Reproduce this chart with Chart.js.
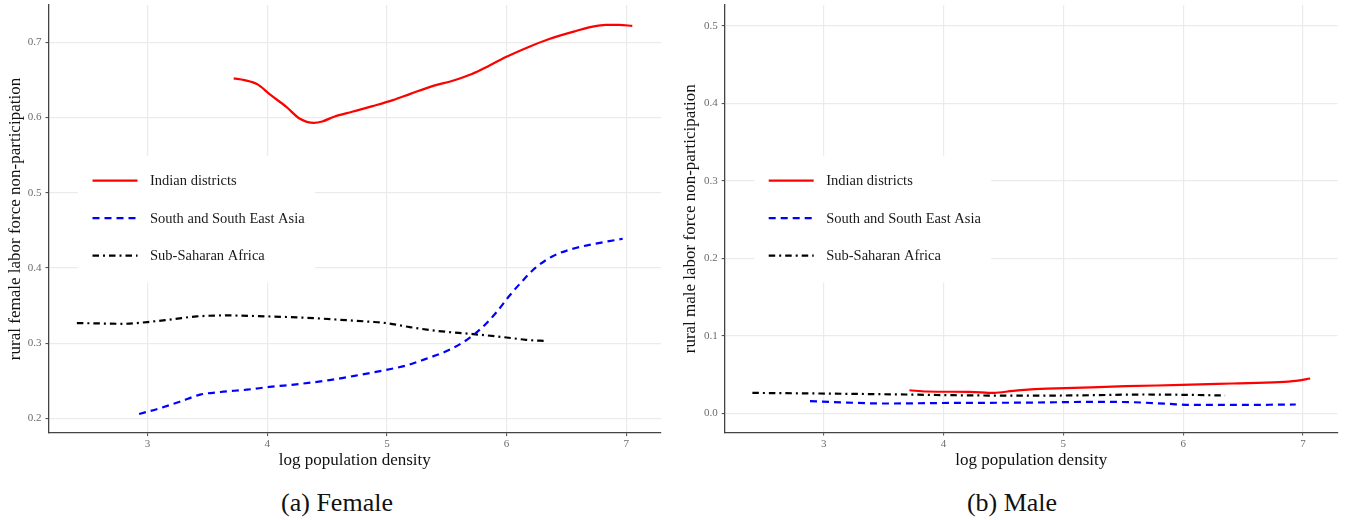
<!DOCTYPE html>
<html>
<head>
<meta charset="utf-8">
<script src="https://cdn.jsdelivr.net/npm/chart.js@4"></script>
<style>
  html, body { margin: 0; padding: 0; background: #fff; }
  #wrap { position: relative; width: 1345px; height: 520px; overflow: hidden; }
  #wrap canvas { position: absolute; top: 0; }
  .cap { position: absolute; top: 488px; width: 300px; text-align: center;
         font-family: "Liberation Serif", serif; font-size: 26px; color: #111; }
</style>
</head>
<body>
<div id="wrap">
  <canvas id="female" width="672" height="480" style="left:0px"></canvas>
  <canvas id="male" width="673" height="480" style="left:672px"></canvas>
  <div class="cap" style="left:187px">(a) Female</div>
  <div class="cap" style="left:862px">(b) Male</div>
</div>
<script>
// Series names and tick values
const seriesNames = ['Indian districts', 'South and South East Asia', 'Sub-Saharan Africa'];
const xTicks = [3, 4, 5, 6, 7];
const femaleYTicks = [0.2, 0.3, 0.4, 0.5, 0.6, 0.7];
const maleYTicks = [0.0, 0.1, 0.2, 0.3, 0.4, 0.5];

// Female: rural labor force non-participation vs log population density
const femaleIndiaX = [3.72, 3.81, 3.92, 4.02, 4.16, 4.27, 4.39, 4.46, 4.56, 4.71, 4.88, 5.05, 5.19, 5.38, 5.55, 5.71, 5.85, 5.99, 6.19, 6.35, 6.58, 6.72, 6.83, 6.94, 7.05];
const femaleIndiaY = [0.652, 0.6497, 0.644, 0.631, 0.614, 0.5987, 0.5929, 0.5947, 0.601, 0.6075, 0.615, 0.623, 0.631, 0.6417, 0.6488, 0.6577, 0.6684, 0.680, 0.6941, 0.704, 0.715, 0.7208, 0.723, 0.723, 0.7217];

const femaleAsiaX = [2.93, 3.10, 3.27, 3.44, 3.61, 3.83, 4.02, 4.27, 4.52, 4.77, 4.99, 5.16, 5.32, 5.49, 5.66, 5.80, 5.91, 6.02, 6.13, 6.24, 6.385, 6.55, 6.78, 6.97];
const femaleAsiaY = [0.2057, 0.2133, 0.2221, 0.2315, 0.235, 0.2381, 0.2417, 0.2457, 0.2508, 0.2577, 0.2643, 0.2701, 0.2787, 0.2888, 0.3035, 0.3213, 0.340, 0.3622, 0.3822, 0.400, 0.4155, 0.4253, 0.4333, 0.4387];

const femaleAfricaX = [2.41, 2.61, 2.80, 3.00, 3.22, 3.41, 3.66, 4.00, 4.33, 4.61, 4.86, 4.99, 5.19, 5.41, 5.72, 6.00, 6.16, 6.33];
const femaleAfricaY = [0.3267, 0.3261, 0.3257, 0.328, 0.332, 0.3355, 0.3368, 0.3355, 0.3337, 0.331, 0.3284, 0.3267, 0.3213, 0.3164, 0.312, 0.3075, 0.3044, 0.3027];

// Male
const maleIndiaX = [3.715, 3.86, 4.22, 4.42, 4.58, 4.81, 5.015, 5.52, 5.99, 6.41, 6.80, 6.94, 7.06];
const maleIndiaY = [0.030, 0.0284, 0.0279, 0.0266, 0.0292, 0.0318, 0.0327, 0.0352, 0.0369, 0.0387, 0.0404, 0.0421, 0.0452];

const maleAsiaX = [2.885, 3.05, 3.50, 4.08, 4.68, 5.24, 5.57, 5.88, 6.07, 6.49, 6.94];
const maleAsiaY = [0.0159, 0.0150, 0.0129, 0.0137, 0.0140, 0.0150, 0.0146, 0.0124, 0.0111, 0.0111, 0.0116];

const maleAfricaX = [2.404, 2.97, 3.69, 4.08, 4.70, 5.24, 5.66, 6.07, 6.35];
const maleAfricaY = [0.0266, 0.0258, 0.0245, 0.0236, 0.0230, 0.0236, 0.0245, 0.0240, 0.0232];

Chart.defaults.font.family = '"Liberation Serif", serif';

const seriesStyles = [
  { borderColor: '#ff0000', borderDash: [] },
  { borderColor: '#0000ff', borderDash: [7, 5] },
  { borderColor: '#000000', borderDash: [6.5, 4, 2, 4] }
];

function points(xs, ys) {
  return xs.map((x, i) => ({ x: x, y: ys[i] }));
}

// Legend drawn inside the plot panel on a white box, beneath the curves
const insetLegend = {
  id: 'insetLegend',
  beforeDatasetsDraw(chart) {
    const { ctx, chartArea: a } = chart;
    const bx = a.left + 29.5, by = a.top + 150.7, bw = 237, bh = 127;
    ctx.save();
    ctx.fillStyle = '#ffffff';
    ctx.fillRect(bx, by, bw, bh);
    chart.data.datasets.forEach((ds, i) => {
      const y = by + 25 + i * 37.5;
      ctx.beginPath();
      ctx.setLineDash(ds.borderDash || []);
      ctx.strokeStyle = ds.borderColor;
      ctx.lineWidth = ds.borderWidth;
      ctx.moveTo(bx + 14.5, y);
      ctx.lineTo(bx + 59.5, y);
      ctx.stroke();
      ctx.setLineDash([]);
      ctx.fillStyle = '#1a1a1a';
      ctx.font = '14.5px "Liberation Serif", serif';
      ctx.textBaseline = 'middle';
      ctx.textAlign = 'left';
      ctx.fillText(ds.label, bx + 72, y + 0.5);
    });
    ctx.restore();
  }
};

// Drop the extra edge padding Chart.js reserves for end tick labels
function noEdgePadding(s) {
  s.paddingTop = 0;
  s.paddingBottom = 0;
  s.paddingLeft = 0;
  s.paddingRight = 0;
}

function makePanel(id, series, yTicks, yMin, yMax, yTitle, axisLeft, padRight, titlePad, xAxisHeight) {
  const datasets = series.map((s, i) => ({
    label: seriesNames[i],
    data: points(s[0], s[1]),
    borderColor: seriesStyles[i].borderColor,
    borderDash: seriesStyles[i].borderDash,
    borderWidth: 2.2,
    pointRadius: 0,
    cubicInterpolationMode: 'monotone',
    fill: false
  }));
  return new Chart(document.getElementById(id), {
    type: 'line',
    data: { datasets: datasets },
    plugins: [insetLegend],
    options: {
      responsive: false,
      animation: false,
      devicePixelRatio: 1,
      layout: { padding: { top: 5, right: padRight, left: 0, bottom: 0 } },
      plugins: { legend: { display: false }, tooltip: { enabled: false } },
      scales: {
        x: {
          type: 'linear',
          min: 2.173,
          max: 7.29,
          afterBuildTicks: s => { s.ticks = xTicks.map(v => ({ value: v })); },
          afterFit: s => { s.height = xAxisHeight; noEdgePadding(s); },
          ticks: { callback: v => String(v), color: '#6b6b6b', font: { size: 11 }, padding: 2, maxRotation: 0, autoSkip: false },
          grid: { color: '#ebebeb', lineWidth: 1.2, drawTicks: true, tickLength: 3, tickColor: '#444', tickWidth: 1 },
          border: { display: true, color: '#444', width: 1.3 },
          title: { display: true, text: 'log population density', color: '#111', font: { size: 17 }, padding: { top: 0, bottom: 9 } }
        },
        y: {
          type: 'linear',
          min: yMin,
          max: yMax,
          afterBuildTicks: s => { s.ticks = yTicks.map(v => ({ value: v })); },
          afterFit: s => { s.width = axisLeft; noEdgePadding(s); },
          ticks: { callback: v => Number(v).toFixed(1), color: '#6b6b6b', font: { size: 11 }, padding: 4, autoSkip: false },
          grid: { color: '#ebebeb', lineWidth: 1.2, drawTicks: true, tickLength: 3, tickColor: '#444', tickWidth: 1 },
          border: { display: true, color: '#444', width: 1.3 },
          title: { display: true, text: yTitle, color: '#111', font: { size: 17 }, padding: { top: titlePad, bottom: 0 } }
        }
      }
    }
  });
}

makePanel('female',
  [[femaleIndiaX, femaleIndiaY], [femaleAsiaX, femaleAsiaY], [femaleAfricaX, femaleAfricaY]],
  femaleYTicks, 0.1805, 0.7495,
  'rural female labor force non-participation',
  48.5, 11, 5, 47);

makePanel('male',
  [[maleIndiaX, maleIndiaY], [maleAsiaX, maleAsiaY], [maleAfricaX, maleAfricaY]],
  maleYTicks, -0.0245, 0.527,
  'rural male labor force non-participation',
  52.7, 7.3, 8, 47.5);
</script>
</body>
</html>
